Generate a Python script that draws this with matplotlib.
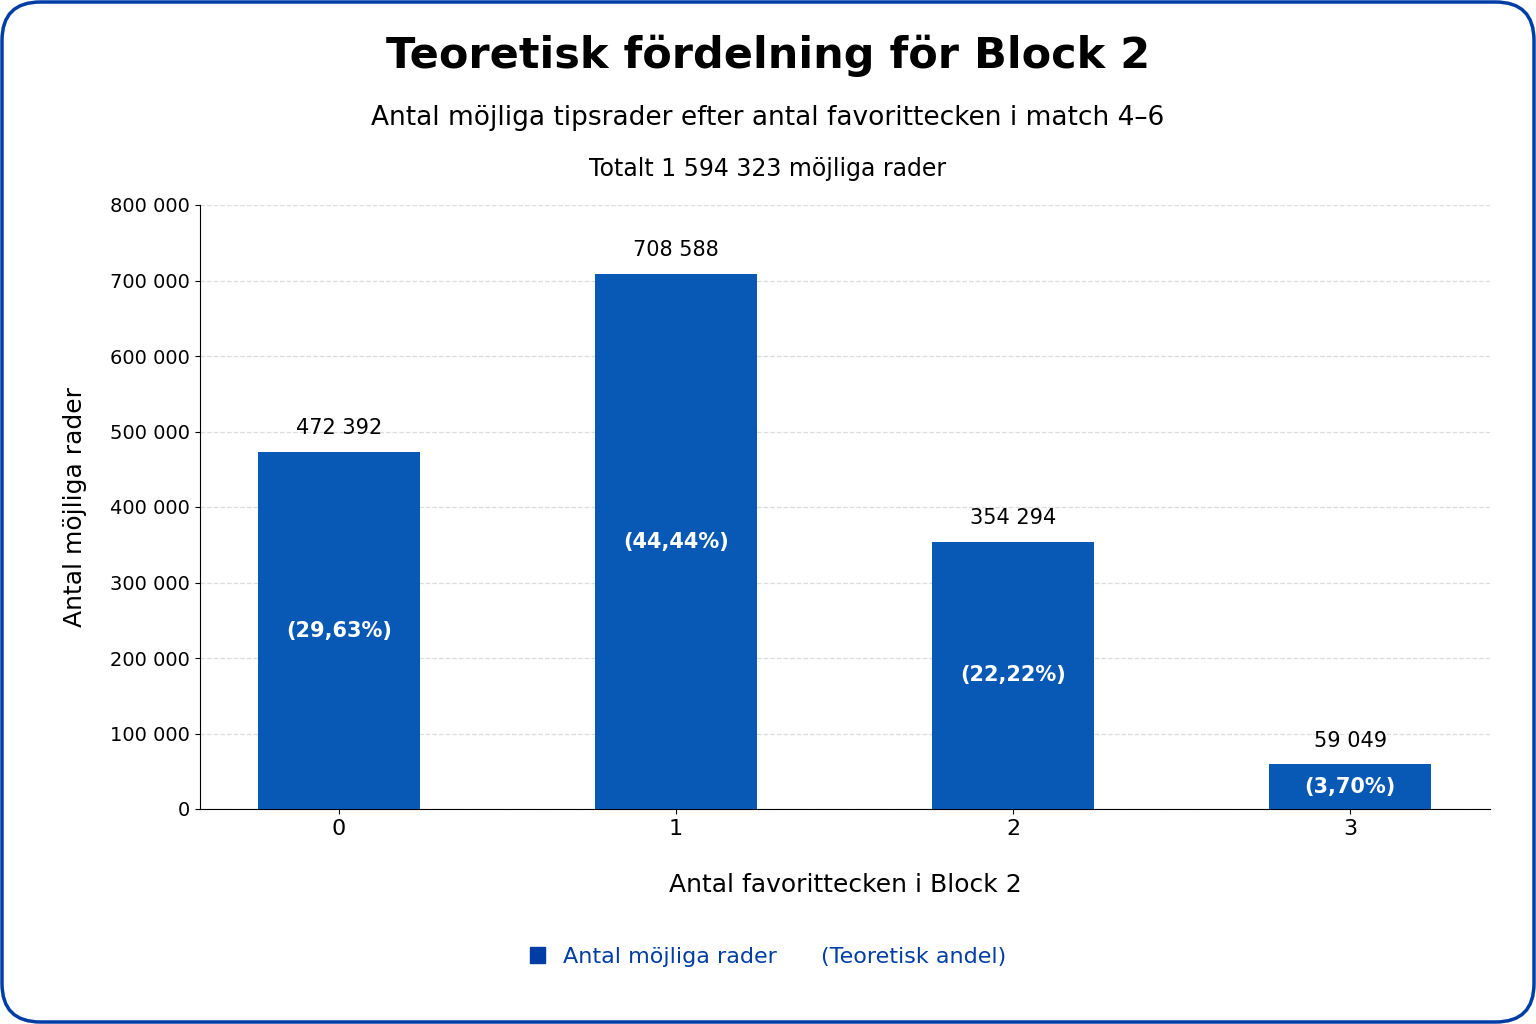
import numpy as np
import matplotlib.pyplot as plt
from matplotlib.patches import FancyBboxPatch, Patch

categories = ['0', '1', '2', '3']
rows = [472392, 708588, 354294, 59049]
shares = ['(29,63%)', '(44,44%)', '(22,22%)', '(3,70%)']
total = 1594323
yticks = [0, 100000, 200000, 300000, 400000, 500000, 600000, 700000, 800000]

bar_col = '#0759b5'
frame_col = '#003da5'


def sv(n):
    return f'{n:,}'.replace(',', ' ')


fig = plt.figure(figsize=(15.36, 10.24), dpi=100)
ax = fig.add_axes([200/1536, 1-809/1024, 1290/1536, 604/1024])

x = np.arange(len(categories))
ax.bar(x, rows, width=0.48, color=bar_col, zorder=3)
for i, v in enumerate(rows):
    ax.annotate(sv(v), (x[i], v), xytext=(0, 10), textcoords='offset points',
                ha='center', va='bottom', fontsize=15)
    ax.text(x[i], v/2, shares[i], ha='center', va='center', fontsize=15,
            color='white', fontweight='bold')

ax.set_xlim(-0.412, 3.415)
ax.set_ylim(0, 800000)
ax.set_xticks(x)
ax.set_xticklabels(categories, fontsize=16)
ax.set_yticks(yticks)
ax.set_yticklabels([sv(t) for t in yticks], fontsize=14)
ax.grid(axis='y', linestyle='--', color='#dddddd', linewidth=0.9, zorder=0)
ax.spines['top'].set_visible(False)
ax.spines['right'].set_visible(False)
ax.set_xlabel('Antal favorittecken i Block 2', fontsize=18, labelpad=25)
ax.set_ylabel('Antal möjliga rader', fontsize=18, labelpad=17)

fig.text(0.5, 1-56/1024, 'Teoretisk fördelning för Block 2', ha='center', va='center',
         fontsize=31, fontweight='bold')
fig.text(0.5, 1-118/1024, 'Antal möjliga tipsrader efter antal favorittecken i match 4–6',
         ha='center', va='center', fontsize=19)
fig.text(0.5, 1-169/1024, 'Totalt ' + sv(total) + ' möjliga rader',
         ha='center', va='center', fontsize=17)

handles = [Patch(color=frame_col), Patch(color='none')]
leg = fig.legend(handles, ['Antal möjliga rader', '(Teoretisk andel)'], loc='center',
                 bbox_to_anchor=(768/1536, 1-957/1024), ncol=2, frameon=False,
                 fontsize=16, handlelength=0.7, handleheight=0.7, columnspacing=0.5,
                 handletextpad=0.8)
for t in leg.get_texts():
    t.set_color(frame_col)

border = FancyBboxPatch((2/1536, 2/1024), 1-4/1536, 1-4/1024,
                        boxstyle='round,pad=0,rounding_size=0.025',
                        transform=fig.transFigure, fill=False,
                        edgecolor=frame_col, linewidth=2.5, mutation_aspect=1.5)
fig.patches.append(border)

fig.savefig('out.png', dpi=100)
